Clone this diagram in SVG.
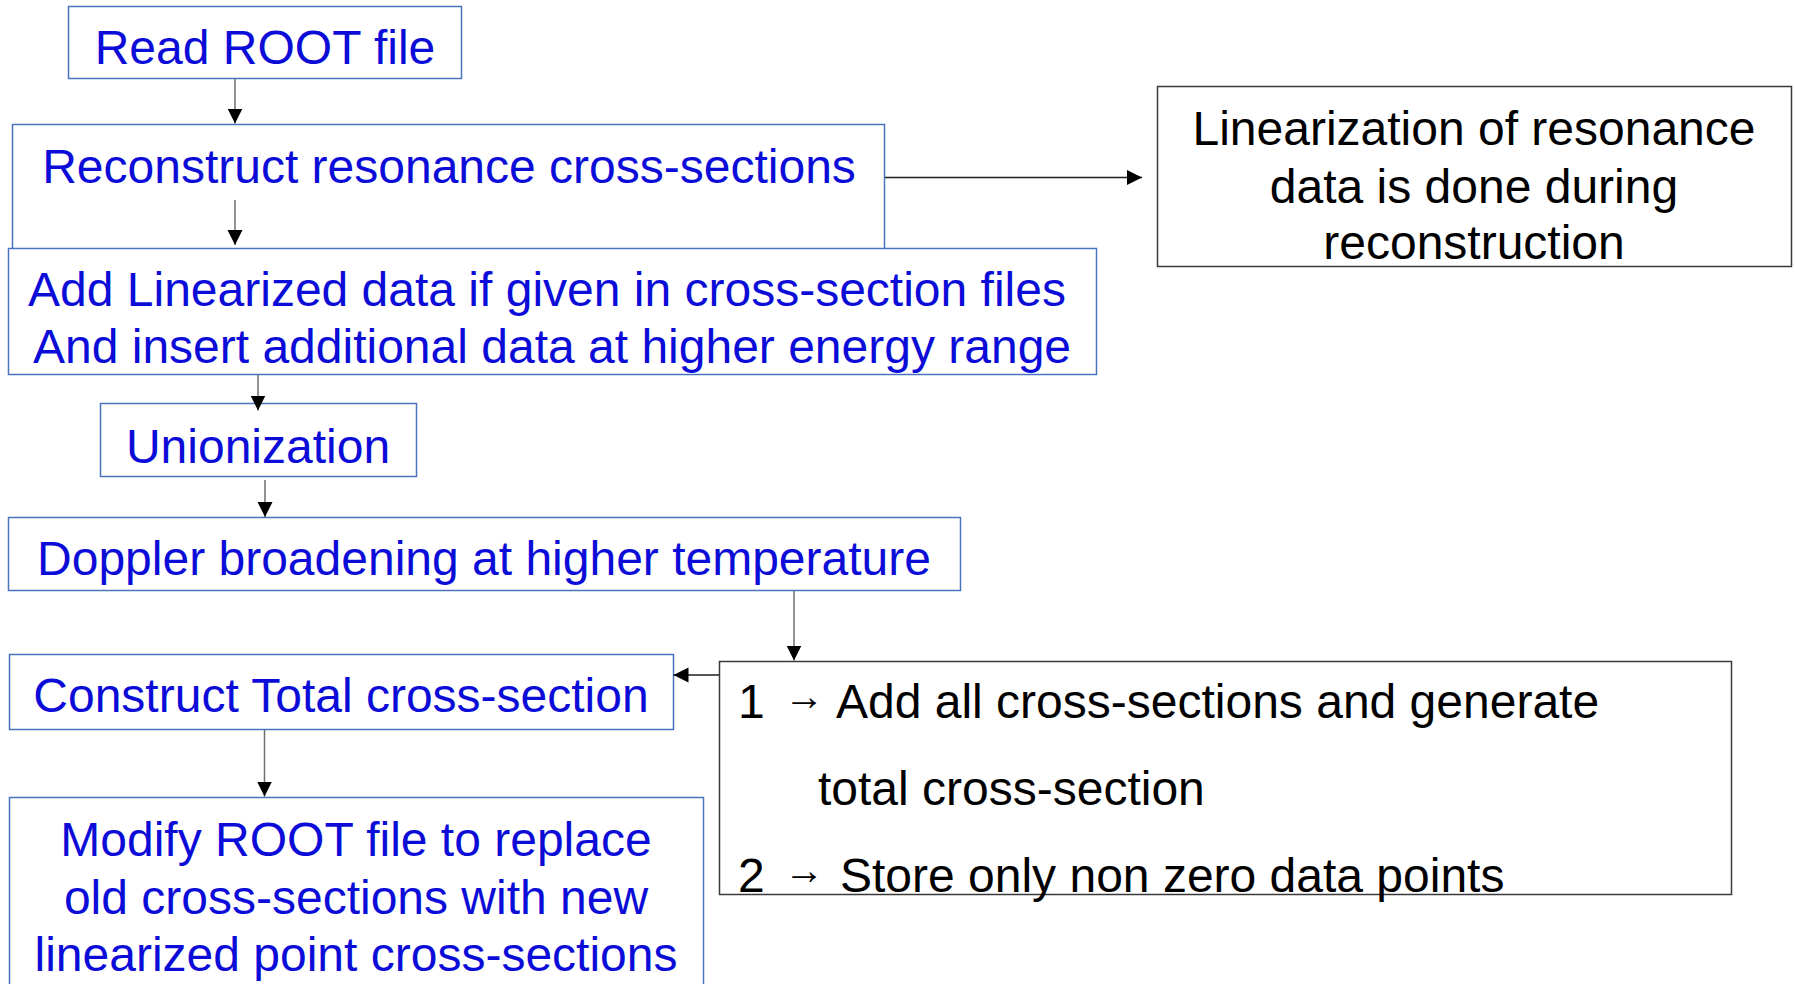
<svg xmlns="http://www.w3.org/2000/svg" width="1795" height="984" viewBox="0 0 1795 984">
  <style>
    .bbox { fill: #ffffff; stroke: #4a74bf; stroke-width: 1.5; }
    .kbox { fill: #ffffff; stroke: #3a3a3a; stroke-width: 1.5; }
    .bt { font-family: "Liberation Sans", Arial, sans-serif; font-size: 48px; fill: #0c0cd8; text-anchor: middle; }
    .kt { font-family: "Liberation Sans", Arial, sans-serif; font-size: 48px; fill: #000000; text-anchor: middle; }
    .kl { font-family: "Liberation Sans", Arial, sans-serif; font-size: 48px; fill: #000000; }
    .arr { font-size: 40px; }
    .conn { fill: none; stroke-width: 1.5; }
    .gray { stroke: #6e6e6e; }
    .dark { stroke: #1e1e1e; }
  </style>
  <defs>
    <marker id="head" markerUnits="userSpaceOnUse" markerWidth="16" markerHeight="16" viewBox="0 0 16 16" refX="15" refY="8" orient="auto">
      <path d="M0,0.5 L15,8 L0,15.5 Z" fill="#000000"/>
    </marker>
  </defs>

  <rect width="1795" height="984" fill="#ffffff"/>

  <g id="read-root">
    <rect class="bbox" x="68.5" y="6.5" width="393" height="72"/>
    <text class="bt" x="265" y="64">Read ROOT file</text>
  </g>

  <g id="reconstruct">
    <rect class="bbox" x="12.5" y="124.5" width="872" height="125"/>
    <text class="bt" x="449" y="183">Reconstruct resonance cross-sections</text>
  </g>

  <g id="add-linearized">
    <rect class="bbox" x="8.5" y="248.5" width="1088" height="126"/>
    <text class="bt" x="547" y="306">Add Linearized data if given in cross-section files</text>
    <text class="bt" x="552" y="363">And insert additional data at higher energy range</text>
  </g>

  <g id="unionization">
    <rect class="bbox" x="100.5" y="403.5" width="316" height="73"/>
    <text class="bt" x="258" y="462.5">Unionization</text>
  </g>

  <g id="doppler">
    <rect class="bbox" x="8.5" y="517.5" width="952" height="73"/>
    <text class="bt" x="484" y="575">Doppler broadening at higher temperature</text>
  </g>

  <g id="construct-total">
    <rect class="bbox" x="9.5" y="654.5" width="664" height="75"/>
    <text class="bt" x="341" y="712">Construct Total cross-section</text>
  </g>

  <g id="modify-root">
    <rect class="bbox" x="9.5" y="797.5" width="694" height="200"/>
    <text class="bt" x="356" y="856">Modify ROOT file to replace</text>
    <text class="bt" x="356" y="913.5">old cross-sections with new</text>
    <text class="bt" x="356" y="970.5">linearized point cross-sections</text>
  </g>

  <g id="linearization-note">
    <rect class="kbox" x="1157.5" y="86.5" width="634" height="180"/>
    <text class="kt" x="1474" y="144.5">Linearization of resonance</text>
    <text class="kt" x="1474" y="202.5">data is done during</text>
    <text class="kt" x="1474" y="259">reconstruction</text>
  </g>

  <g id="total-steps">
    <rect class="kbox" x="719.5" y="661.5" width="1012" height="233"/>
    <text class="kl"><tspan x="738" y="718">1</tspan><tspan class="arr" x="784" y="710">→</tspan><tspan x="836" y="718">Add all cross-sections and generate</tspan></text>
    <text class="kl" x="818" y="805">total cross-section</text>
    <text class="kl"><tspan x="738" y="892">2</tspan><tspan class="arr" x="784" y="884">→</tspan><tspan x="840" y="892">Store only non zero data points</tspan></text>
  </g>

  <g id="connectors">
    <line class="conn gray" x1="235" y1="79" x2="235" y2="123.5" marker-end="url(#head)"/>
    <line class="conn gray" x1="235" y1="200" x2="235" y2="245" marker-end="url(#head)"/>
    <line class="conn gray" x1="258" y1="375" x2="258" y2="410.5" marker-end="url(#head)"/>
    <line class="conn gray" x1="265" y1="480" x2="265" y2="517" marker-end="url(#head)"/>
    <line class="conn gray" x1="794" y1="591" x2="794" y2="660.5" marker-end="url(#head)"/>
    <line class="conn dark" x1="719" y1="675" x2="673.5" y2="675" marker-end="url(#head)"/>
    <line class="conn dark" x1="885" y1="177.5" x2="1142" y2="177.5" marker-end="url(#head)"/>
    <line class="conn gray" x1="264.5" y1="730" x2="264.5" y2="796.5" marker-end="url(#head)"/>
  </g>
</svg>
